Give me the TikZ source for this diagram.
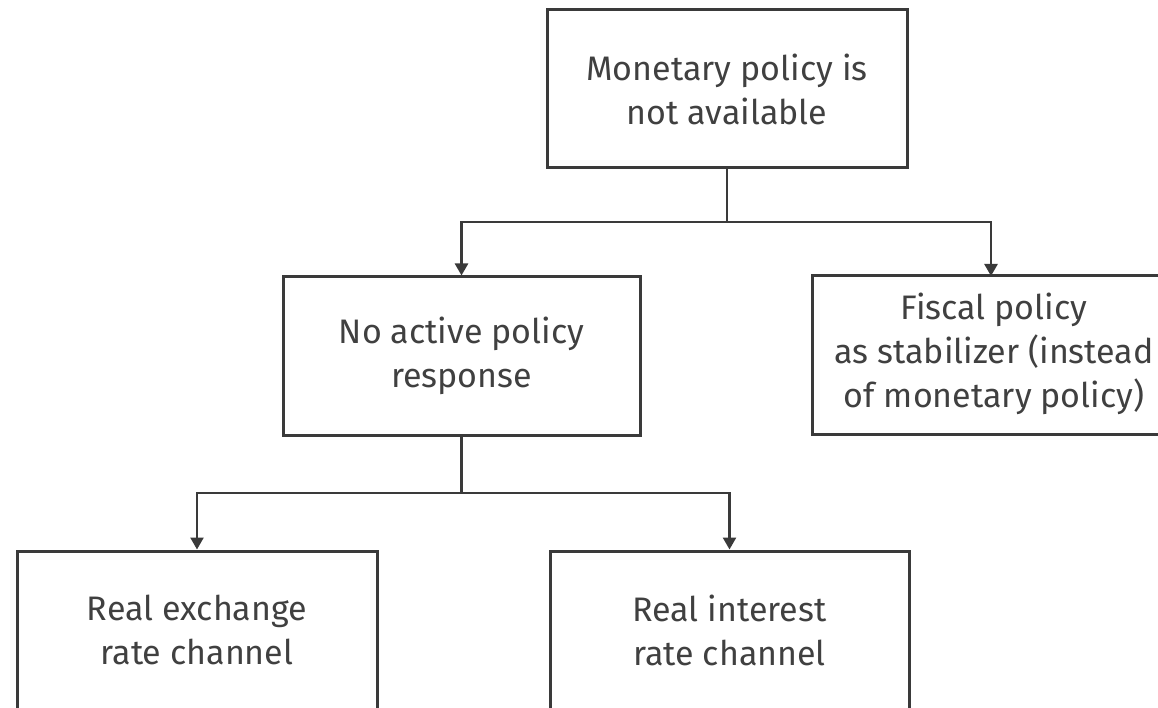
\documentclass[tikz,border=0pt]{standalone}
\usepackage{fontspec}
\setmainfont{Fira Sans}
\usetikzlibrary{arrows.meta}
\definecolor{linec}{HTML}{3A3A3A}
\definecolor{textc}{HTML}{404040}
\tikzset{
  box/.style={draw=linec, line width=3pt, minimum width=#1, minimum height=158pt,
    inner sep=0pt, align=center, text=textc,
    font=\fontsize{34}{44}\selectfont},
  box/.default=360pt,
  conn/.style={draw=linec, line width=2.5pt},
  arr/.style={conn, -{Triangle[width=13pt,length=12pt]}}
}
\begin{document}
\begin{tikzpicture}[x=1pt,y=-1pt]
\useasboundingbox (0,0) rectangle (1158,708);
\clip (0,0) rectangle (1158,708);
\node[box] (top) at (727,89) {Monetary policy is\\not available};
\node[box=357pt] (mid) at (461.5,356) {No active policy\\response};
\node[box=400pt] (fisc) at (1012,355) {\begin{tabular}{@{}c@{\hspace{36pt}}}Fiscal policy\\as stabilizer (instead\\of monetary policy)\end{tabular}};
\node[box] (bl) at (197,630) {Real exchange\\rate channel};
\node[box=359pt] (bm) at (729.5,630) {Real interest\\rate channel};
\coordinate (j1) at (727,222);
\coordinate (j2) at (461.5,493);
\coordinate (fa) at (991,276);
\draw[conn] (top.south) -- (j1);
\draw[arr] (j1) -| (mid.north);
\draw[arr] (j1) -| (fa);
\draw[conn] (mid.south) -- (j2);
\draw[arr] (j2) -| (bl.north);
\draw[arr] (j2) -| (bm.north);
\end{tikzpicture}
\end{document}
